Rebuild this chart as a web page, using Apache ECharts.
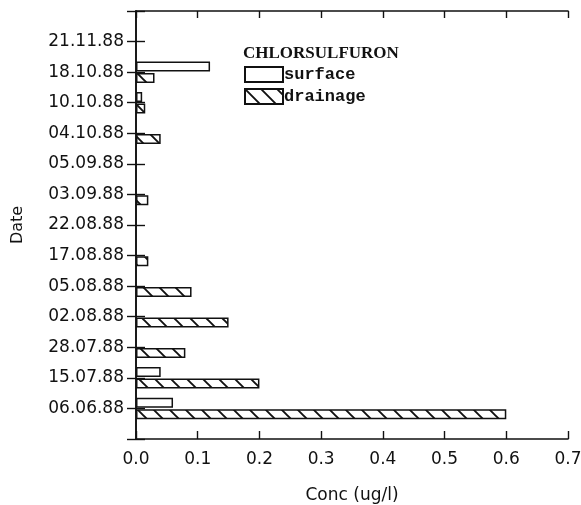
<!DOCTYPE html>
<html>
<head>
<meta charset="utf-8">
<script src="https://cdn.jsdelivr.net/npm/echarts@6/dist/echarts.min.js"></script>
<style>
  html, body { margin: 0; padding: 0; background: #fff; }
  #chart { width: 581px; height: 505px; }
</style>
</head>
<body>
<div id="chart"></div>
<script>
// Sampling dates, bottom to top
const dates = ['06.06.88', '15.07.88', '28.07.88', '02.08.88', '05.08.88', '17.08.88',
  '22.08.88', '03.09.88', '05.09.88', '04.10.88', '10.10.88', '18.10.88', '21.11.88'];
// Chlorsulfuron concentration (ug/l); null = not detected
const surface = [0.06, 0.04, null, null, null, null, null, null, null, null, 0.01, 0.12, null];
const drainage = [0.6, 0.2, 0.08, 0.15, 0.09, 0.02, null, 0.02, null, 0.04, 0.015, 0.03, null];
const concTicks = [0, 0.1, 0.2, 0.3, 0.4, 0.5, 0.6, 0.7];

// Empty slots above and below the dates leave a blank band at each end of the axis
const yCats = [''].concat(dates, ['']);
const pad = v => [null].concat(v, [null]);

// Back-slash hatch tile for the drainage bars
function hatch() {
  const s = 16;
  const c = document.createElement('canvas');
  c.width = s; c.height = s;
  const g = c.getContext('2d');
  g.fillStyle = '#fff';
  g.fillRect(0, 0, s, s);
  g.strokeStyle = '#111';
  g.lineWidth = 1.9;
  g.beginPath();
  g.moveTo(-2, -2); g.lineTo(s + 2, s + 2);
  g.moveTo(-2, s - 2); g.lineTo(2, s + 2);
  g.moveTo(s - 2, -2); g.lineTo(s + 2, 2);
  g.stroke();
  return c;
}

const ink = '#111';
const chart = echarts.init(document.getElementById('chart'), null, { renderer: 'canvas' });

const tickFont = { fontFamily: 'DejaVu Sans', fontSize: 17, color: ink };

chart.setOption({
  animation: false,
  backgroundColor: '#fff',
  grid: { left: 136, right: 13, top: 11, bottom: 66, containLabel: false, outerBoundsMode: 'none' },
  title: {
    text: 'CHLORSULFURON',
    left: 243, top: 45, padding: 0,
    textStyle: { fontFamily: 'Liberation Serif', fontWeight: 'bold', fontSize: 17, color: ink }
  },
  legend: {
    orient: 'vertical',
    left: 244, top: 66, padding: 0,
    itemWidth: 38, itemHeight: 15, itemGap: 5,
    icon: 'rect',
    textStyle: { fontFamily: 'Liberation Mono', fontWeight: 'bold', fontSize: 17, color: ink, padding: [0, 0, 0, -4] },
    data: ['surface', 'drainage']
  },
  xAxis: [
    {
      type: 'value', position: 'bottom', min: 0, max: 0.7, interval: 0.1,
      name: 'Conc (ug/l)', nameLocation: 'middle', nameGap: 48,
      nameTextStyle: { fontFamily: 'DejaVu Sans', fontSize: 17, color: ink },
      axisLine: { show: true, lineStyle: { color: ink, width: 1.6 } },
      axisTick: { show: true, inside: true, length: 8, lineStyle: { color: ink, width: 1.4 } },
      axisLabel: Object.assign({ margin: 12, formatter: v => concTicks.includes(+v.toFixed(1)) ? v.toFixed(1) : '' }, tickFont),
      splitLine: { show: false }
    },
    {
      type: 'value', position: 'top', min: 0, max: 0.7, interval: 0.1,
      axisLine: { show: true, lineStyle: { color: ink, width: 1.6 } },
      axisTick: { show: true, inside: true, length: 7, lineStyle: { color: ink, width: 1.4 } },
      axisLabel: { show: false },
      splitLine: { show: false }
    }
  ],
  yAxis: [
    {
      type: 'category', position: 'left', data: yCats, boundaryGap: false,
      name: 'Date', nameLocation: 'middle', nameGap: 110, nameRotate: 90,
      nameTextStyle: { fontFamily: 'DejaVu Sans', fontSize: 16, color: ink },
      axisLine: { show: true, lineStyle: { color: ink, width: 1.6 } },
      axisTick: { show: true, inside: true, length: 9, interval: 0, lineStyle: { color: ink, width: 1.4 } },
      axisLabel: Object.assign({ interval: 0, margin: 12 }, tickFont)
    },
    {
      type: 'category', position: 'right', data: yCats, boundaryGap: false,
      axisLine: { show: true, lineStyle: { color: ink, width: 1.6 } },
      axisTick: { show: true, inside: true, length: 9, interval: 0, lineStyle: { color: ink, width: 1.4 } },
      axisLabel: { show: false }
    }
  ],
  series: [
    {
      name: 'surface', type: 'bar', xAxisIndex: 0, yAxisIndex: 0,
      data: pad(surface), barWidth: 10, barGap: '15%',
      itemStyle: { color: '#fff', borderColor: ink, borderWidth: 1.5 }
    },
    {
      name: 'drainage', type: 'bar', xAxisIndex: 0, yAxisIndex: 0,
      data: pad(drainage), barWidth: 10, barGap: '15%',
      itemStyle: { color: { image: hatch(), repeat: 'repeat' }, borderColor: ink, borderWidth: 1.5 }
    }
  ]
});
</script>
</body>
</html>
